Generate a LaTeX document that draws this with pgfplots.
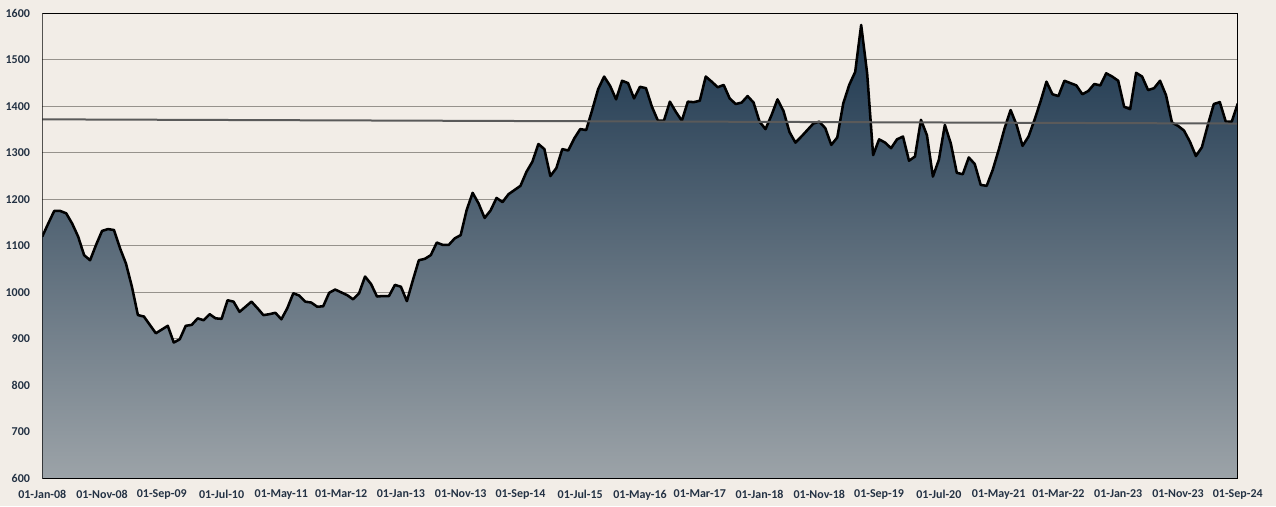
\documentclass[border=0pt]{standalone}
\usepackage{pgfplots}
\pgfplotsset{compat=1.18}
\usepackage{pgfplotstable}
\usepackage{fontspec}
\setmainfont{Carlito}
\definecolor{bg}{RGB}{242,237,231}
\definecolor{txt}{RGB}{36,50,68}
\definecolor{gridc}{RGB}{150,146,140}
\definecolor{topc}{RGB}{28,54,78}
\definecolor{botc}{RGB}{156,163,168}
\definecolor{trend}{RGB}{90,90,90}

\pgfplotstableread{
idx val
0 1120
1 1148
2 1175
3 1175
4 1170
5 1148
6 1120
7 1080
8 1069
9 1102
10 1132
11 1136
12 1134
13 1095
14 1062
15 1012
16 951
17 948
18 930
19 912
20 920
21 928
22 892
23 899
24 928
25 930
26 944
27 940
28 953
29 944
30 943
31 983
32 980
33 958
34 969
35 980
36 966
37 951
38 953
39 956
40 942
41 966
42 998
43 993
44 980
45 978
46 969
47 970
48 999
49 1006
50 1000
51 994
52 985
53 998
54 1034
55 1018
56 991
57 992
58 992
59 1016
60 1012
61 981
62 1026
63 1069
64 1072
65 1080
66 1107
67 1102
68 1102
69 1116
70 1123
71 1177
72 1214
73 1191
74 1160
75 1176
76 1203
77 1194
78 1211
79 1220
80 1229
81 1259
82 1281
83 1319
84 1308
85 1250
86 1267
87 1308
88 1305
89 1331
90 1351
91 1349
92 1392
93 1437
94 1464
95 1444
96 1415
97 1455
98 1450
99 1417
100 1442
101 1439
102 1399
103 1369
104 1369
105 1410
106 1388
107 1369
108 1410
109 1409
110 1412
111 1464
112 1453
113 1441
114 1446
115 1417
116 1405
117 1408
118 1422
119 1408
120 1367
121 1351
122 1381
123 1415
124 1390
125 1345
126 1322
127 1335
128 1349
129 1363
130 1367
131 1353
132 1317
133 1333
134 1406
135 1446
136 1474
137 1575
138 1471
139 1295
140 1329
141 1322
142 1310
143 1329
144 1335
145 1283
146 1292
147 1371
148 1338
149 1249
150 1285
151 1360
152 1320
153 1257
154 1254
155 1290
156 1276
157 1231
158 1229
159 1263
160 1306
161 1353
162 1392
163 1360
164 1315
165 1335
166 1371
167 1410
168 1453
169 1426
170 1422
171 1455
172 1450
173 1445
174 1426
175 1433
176 1448
177 1445
178 1471
179 1464
180 1455
181 1399
182 1394
183 1472
184 1464
185 1435
186 1439
187 1455
188 1424
189 1365
190 1358
191 1348
192 1324
193 1293
194 1312
195 1360
196 1405
197 1409
198 1367
199 1367
200 1406
}\datatable

\begin{document}
\begin{tikzpicture}
\fill[bg] (-31.7pt,-20.8pt) rectangle (925.3pt,358.75pt);
\begin{axis}[
  at={(0,0)}, anchor=south west,
  scale only axis, width=896.6pt, height=348.75pt,
  xmin=0, xmax=200, ymin=600, ymax=1600,
  xtick={0,10,...,200},
  xticklabels={01-Jan-08,01-Nov-08,01-Sep-09,01-Jul-10,01-May-11,01-Mar-12,01-Jan-13,01-Nov-13,01-Sep-14,01-Jul-15,01-May-16,01-Mar-17,01-Jan-18,01-Nov-18,01-Sep-19,01-Jul-20,01-May-21,01-Mar-22,01-Jan-23,01-Nov-23,01-Sep-24},
  ytick={600,700,...,1600},
  ymajorgrids, grid style={gridc, line width=0.75pt},
  major tick length=0pt,
  axis line style={draw=none},
  tick label style={font=\fontsize{9}{11}\selectfont\bfseries, text=txt},
  /pgf/number format/assume math mode=true,
  /pgf/number format/1000 sep={},
  yticklabel style={xshift=-5.7pt},
  xticklabel style={yshift=-5.25pt},
]
\addplot[draw=none, top color=topc, bottom color=botc] table[x=idx,y=val]{\datatable} -- (axis cs:200,600) -- (axis cs:0,600) -- cycle;
\addplot[black, line width=1.9pt, line join=round, mark=none] table[x=idx,y=val]{\datatable};
\addplot[trend, line width=1.5pt, mark=none] coordinates {(0,1372) (200,1363)};
\draw[black, line width=1pt] (rel axis cs:0,0) rectangle (rel axis cs:1,1);
\end{axis}
\pgfresetboundingbox
\path (-31.7pt,-20.8pt) rectangle (925.3pt,358.75pt);
\end{tikzpicture}
\end{document}
